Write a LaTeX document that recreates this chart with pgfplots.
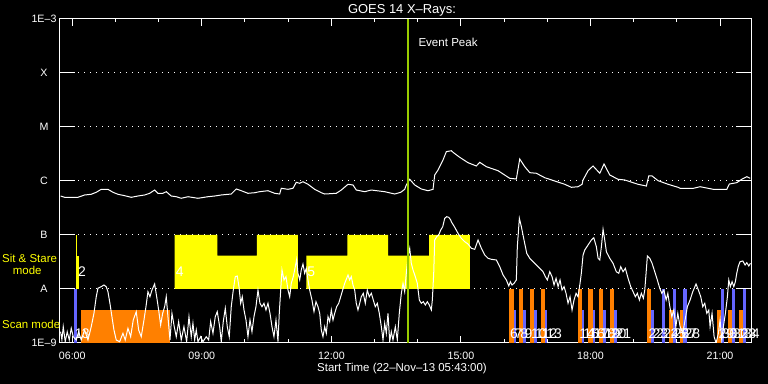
\documentclass[border=0pt]{standalone}
\usepackage{fontspec}
\setmainfont{Liberation Sans}
\usepackage{pgfplots}
\pgfplotsset{compat=1.18}
\definecolor{scanor}{RGB}{255,128,0}
\definecolor{scanbl}{RGB}{102,102,255}
\definecolor{peakgr}{RGB}{153,204,0}
\definecolor{ssy}{RGB}{255,255,0}
\tikzset{lab/.style={white, font=\fontsize{14}{15}\selectfont, inner sep=0pt, anchor=west, xshift=1bp}}
\pgfplotstableread{
h L
5.731 -6.278
5.824 -6.302
6.132 -6.302
6.287 -6.259
6.440 -6.246
6.556 -6.209
6.672 -6.154
6.827 -6.154
6.943 -6.209
7.058 -6.246
7.214 -6.272
7.366 -6.302
7.522 -6.278
7.677 -6.259
7.793 -6.228
7.908 -6.167
7.985 -6.228
8.101 -6.228
8.177 -6.198
8.293 -6.278
8.409 -6.291
8.524 -6.320
8.680 -6.291
8.911 -6.320
9.143 -6.291
9.298 -6.278
9.451 -6.259
9.682 -6.241
9.798 -6.148
9.914 -6.180
10.069 -6.228
10.224 -6.217
10.340 -6.198
10.532 -6.180
10.688 -6.228
10.803 -6.241
10.840 -6.135
10.996 -6.154
11.111 -6.135
11.188 -6.024
11.267 -6.043
11.343 -6.013
11.459 -6.061
11.614 -6.154
11.767 -6.217
11.846 -6.241
12.114 -6.228
12.230 -6.167
12.385 -6.061
12.501 -6.074
12.577 -6.167
12.772 -6.198
12.925 -6.167
13.235 -6.198
13.467 -6.241
13.606 -6.209
13.698 -6.154
13.735 -6.074
13.814 -5.968
13.930 -6.074
14.083 -6.148
14.238 -6.180
14.354 -6.154
14.393 -5.889
14.470 -5.796
14.585 -5.611
14.662 -5.457
14.778 -5.439
14.817 -5.468
14.972 -5.561
15.164 -5.661
15.357 -5.722
15.435 -5.654
15.588 -5.735
15.859 -5.809
16.130 -5.950
16.283 -5.963
16.362 -5.593
16.478 -5.735
16.594 -5.846
16.746 -5.857
16.941 -5.939
17.172 -6.000
17.404 -6.061
17.557 -6.117
17.712 -6.106
17.805 -6.061
17.828 -5.981
17.944 -5.809
18.059 -5.722
18.215 -5.857
18.314 -5.685
18.446 -5.889
18.638 -5.968
18.793 -5.981
19.101 -6.061
19.294 -6.093
19.349 -5.907
19.426 -5.907
19.565 -5.994
19.797 -6.061
20.028 -6.117
20.075 -6.135
20.383 -6.135
20.538 -6.106
20.845 -6.154
21.156 -6.154
21.216 -6.056
21.387 -6.031
21.503 -5.968
21.619 -5.920
21.696 -5.950
}\longch
\pgfplotstableread{
h L
5.731 -8.791
5.761 -8.944
5.792 -8.698
5.838 -8.976
5.884 -8.791
5.931 -8.944
5.977 -8.728
6.023 -8.883
6.093 -8.944
6.148 -8.791
6.208 -8.944
6.287 -8.759
6.364 -8.944
6.440 -8.698
6.503 -8.450
6.556 -8.143
6.595 -7.987
6.672 -7.957
6.734 -7.926
6.787 -7.957
6.827 -8.050
6.873 -8.265
6.919 -8.513
6.966 -8.759
7.019 -8.944
7.098 -8.976
7.174 -8.820
7.227 -8.944
7.290 -8.728
7.353 -8.883
7.413 -8.574
7.482 -8.420
7.538 -8.759
7.598 -8.883
7.661 -8.574
7.707 -8.328
7.753 -8.050
7.800 -8.143
7.846 -8.019
7.908 -7.907
7.955 -8.143
8.001 -8.389
8.047 -8.667
8.094 -8.450
8.140 -8.328
8.177 -8.143
8.216 -8.513
8.263 -8.944
8.309 -8.450
8.355 -8.667
8.409 -8.883
8.464 -8.605
8.524 -8.944
8.587 -8.698
8.649 -8.976
8.703 -8.513
8.756 -8.883
8.795 -8.635
8.835 -8.944
8.872 -8.759
8.911 -8.976
8.974 -8.883
9.027 -8.976
9.103 -8.883
9.159 -8.944
9.205 -8.605
9.259 -8.820
9.312 -8.513
9.358 -8.420
9.414 -8.698
9.451 -8.976
9.497 -8.605
9.544 -8.357
9.590 -8.698
9.636 -8.883
9.682 -8.328
9.729 -8.019
9.775 -7.772
9.821 -7.759
9.861 -7.957
9.900 -8.265
9.937 -8.143
9.977 -8.389
10.023 -8.574
10.069 -8.883
10.116 -8.574
10.162 -8.791
10.208 -8.513
10.254 -8.328
10.301 -8.019
10.347 -8.265
10.393 -8.328
10.440 -8.265
10.486 -8.389
10.532 -8.265
10.579 -8.450
10.625 -8.698
10.671 -8.883
10.718 -8.574
10.764 -8.976
10.794 -8.450
10.827 -8.019
10.857 -7.648
10.903 -7.833
10.949 -7.772
10.996 -8.019
11.035 -8.143
11.072 -7.894
11.118 -7.772
11.165 -7.587
11.197 -7.450
11.227 -7.709
11.267 -7.833
11.303 -7.648
11.343 -7.537
11.382 -7.709
11.419 -7.617
11.459 -7.833
11.498 -8.019
11.551 -8.204
11.598 -8.420
11.644 -8.235
11.690 -8.328
11.730 -8.450
11.767 -8.759
11.806 -8.883
11.846 -8.698
11.883 -8.820
11.922 -8.513
11.961 -8.605
11.999 -8.389
12.038 -8.574
12.077 -8.450
12.123 -8.328
12.170 -8.265
12.216 -8.143
12.262 -8.019
12.309 -7.894
12.355 -7.802
12.385 -7.741
12.424 -7.833
12.462 -7.772
12.501 -7.926
12.540 -8.019
12.577 -8.265
12.616 -8.389
12.656 -8.265
12.693 -8.143
12.739 -8.080
12.786 -8.265
12.832 -8.019
12.878 -8.143
12.925 -8.080
12.971 -8.204
13.017 -8.328
13.064 -8.265
13.110 -8.450
13.157 -8.698
13.196 -8.944
13.235 -8.635
13.272 -8.820
13.311 -8.450
13.351 -8.976
13.388 -8.791
13.427 -8.944
13.481 -8.698
13.527 -8.944
13.573 -8.450
13.620 -8.080
13.659 -7.894
13.698 -8.050
13.735 -7.709
13.775 -7.402
13.814 -7.246
13.851 -7.524
13.891 -7.648
13.944 -7.772
13.990 -7.894
14.037 -8.204
14.083 -8.265
14.129 -8.235
14.176 -8.296
14.222 -8.235
14.268 -8.296
14.315 -8.389
14.338 -8.204
14.370 -7.709
14.393 -7.093
14.440 -7.031
14.486 -7.000
14.532 -6.907
14.579 -6.846
14.625 -6.691
14.671 -6.661
14.718 -6.672
14.764 -6.722
14.778 -6.754
14.856 -6.857
14.933 -6.969
15.009 -7.061
15.088 -7.124
15.164 -7.167
15.241 -7.246
15.320 -7.265
15.396 -7.093
15.473 -7.246
15.551 -7.370
15.628 -7.432
15.704 -7.450
15.820 -7.463
15.899 -7.587
15.976 -7.741
16.052 -7.833
16.108 -7.944
16.145 -7.865
16.184 -7.926
16.231 -7.894
16.283 -7.833
16.306 -7.217
16.353 -6.691
16.399 -6.846
16.461 -7.093
16.524 -7.339
16.594 -7.432
16.670 -7.494
16.746 -7.556
16.825 -7.617
16.901 -7.680
16.955 -7.772
17.001 -7.833
17.057 -7.680
17.110 -7.772
17.156 -7.926
17.203 -7.802
17.249 -7.957
17.295 -7.833
17.341 -8.019
17.388 -7.957
17.434 -8.080
17.480 -8.265
17.527 -8.143
17.573 -8.389
17.619 -8.204
17.666 -8.080
17.712 -8.143
17.758 -7.894
17.788 -7.709
17.828 -7.370
17.867 -7.278
17.944 -7.185
18.020 -7.093
18.076 -7.050
18.136 -7.217
18.176 -7.432
18.215 -7.463
18.252 -7.217
18.291 -6.894
18.330 -7.093
18.368 -7.309
18.446 -7.432
18.522 -7.524
18.598 -7.680
18.654 -7.709
18.701 -7.587
18.754 -7.680
18.807 -7.617
18.870 -7.802
18.932 -7.957
18.986 -8.050
19.039 -8.143
19.085 -8.080
19.132 -8.204
19.178 -8.080
19.224 -8.172
19.257 -8.019
19.287 -7.709
19.317 -7.389
19.373 -7.432
19.426 -7.524
19.488 -7.680
19.548 -7.833
19.604 -7.987
19.652 -8.080
19.699 -8.019
19.752 -8.204
19.791 -8.080
19.837 -8.328
19.883 -8.513
19.930 -8.389
19.976 -8.698
20.022 -8.450
20.075 -8.698
20.137 -8.820
20.190 -8.574
20.243 -8.328
20.306 -8.204
20.368 -8.050
20.444 -7.907
20.498 -8.019
20.553 -8.143
20.600 -8.328
20.646 -8.265
20.693 -8.450
20.739 -8.389
20.769 -8.698
20.815 -8.450
20.862 -8.883
20.908 -9.000
20.961 -8.820
21.001 -8.574
21.040 -8.944
21.077 -8.698
21.124 -8.450
21.170 -8.143
21.202 -7.833
21.239 -7.957
21.279 -7.865
21.318 -7.957
21.355 -7.865
21.387 -7.709
21.424 -7.574
21.464 -7.494
21.527 -7.481
21.580 -7.556
21.619 -7.513
21.666 -7.574
21.703 -7.524
}\shortch
\begin{document}
\begin{tikzpicture}
\fill[black] (0,0) rectangle (768bp,384bp);
\begin{axis}[
  at={(60bp,41bp)}, anchor=south west,
  scale only axis, width=691bp, height=324bp,
  xmin=5.7167, xmax=21.7167, ymin=-9, ymax=-3,
  clip mode=individual,
  axis line style={white, line width=1bp},
  xtick={6,9,12,15,18,21},
  xticklabels={06:00,09:00,12:00,15:00,18:00,21:00},
  minor xtick={7,8,10,11,13,14,16,17,19,20},
  tick align=inside,
  major tick length=7bp, minor tick length=3.5bp,
  xtick style={white, line width=1bp},
  ytick={-9,-8,-7,-6,-5,-4,-3},
  yticklabels={1E--9,A,B,C,M,X,1E--3},
  ytick style={draw=none},
  ymajorgrids,
  major grid style={white, line width=1bp, dash pattern=on 1bp off 5bp},
  tick label style={white, font=\fontsize{10.7}{12}\selectfont, inner sep=0pt},
  xticklabel style={anchor=center, yshift=-12.7bp},
  yticklabel style={anchor=center, xshift=-16bp},
  /pgf/number format/assume math mode=true,
]
% Sit & Stare mode blocks
\addplot[fill=ssy, draw=none] coordinates {(6.079,-8) (6.109,-8) (6.109,-7) (6.079,-7)};
\addplot[fill=ssy, draw=none] coordinates {(6.109,-8) (6.148,-8) (6.148,-7.383) (6.109,-7.383)};
\addplot[fill=ssy, draw=none] coordinates {(8.372,-8) (11.227,-8) (11.227,-7) (10.278,-7) (10.278,-7.383) (9.358,-7.383) (9.358,-7) (8.372,-7)};
\addplot[fill=ssy, draw=none] coordinates {(11.419,-8) (15.210,-8) (15.210,-7) (14.261,-7) (14.261,-7.383) (13.312,-7.383) (13.312,-7) (12.369,-7) (12.369,-7.383) (11.419,-7.383)};
% Scan mode bars
\addplot[fill=scanbl, draw=none] coordinates {(6.032,-9.1) (6.109,-9.1) (6.109,-8) (6.032,-8)};
\addplot[fill=scanor, draw=none] coordinates {(6.195,-9.1) (8.256,-9.1) (8.256,-8.389) (6.195,-8.389)};
% group 1
\addplot[fill=scanor, draw=none] coordinates {(16.114,-9.1) (16.223,-9.1) (16.223,-8) (16.114,-8)};
\addplot[fill=scanbl, draw=none] coordinates {(16.223,-9.1) (16.276,-9.1) (16.276,-8.389) (16.223,-8.389)};
\addplot[fill=scanor, draw=none] coordinates {(16.346,-9.1) (16.445,-9.1) (16.445,-8) (16.346,-8)};
\addplot[fill=scanbl, draw=none] coordinates {(16.445,-9.1) (16.501,-9.1) (16.501,-8.389) (16.445,-8.389)};
\addplot[fill=scanor, draw=none] coordinates {(16.600,-9.1) (16.693,-9.1) (16.693,-8) (16.600,-8)};
\addplot[fill=scanbl, draw=none] coordinates {(16.693,-9.1) (16.755,-9.1) (16.755,-8.389) (16.693,-8.389)};
\addplot[fill=scanor, draw=none] coordinates {(16.848,-9.1) (16.948,-9.1) (16.948,-8) (16.848,-8)};
\addplot[fill=scanbl, draw=none] coordinates {(16.948,-9.1) (16.994,-9.1) (16.994,-8.389) (16.948,-8.389)};
% group 2
\addplot[fill=scanor, draw=none] coordinates {(17.712,-9.1) (17.805,-9.1) (17.805,-8) (17.712,-8)};
\addplot[fill=scanbl, draw=none] coordinates {(17.805,-9.1) (17.851,-9.1) (17.851,-8.389) (17.805,-8.389)};
\addplot[fill=scanor, draw=none] coordinates {(17.944,-9.1) (18.052,-9.1) (18.052,-8) (17.944,-8)};
\addplot[fill=scanbl, draw=none] coordinates {(18.052,-9.1) (18.099,-9.1) (18.099,-8.389) (18.052,-8.389)};
\addplot[fill=scanor, draw=none] coordinates {(18.198,-9.1) (18.298,-9.1) (18.298,-8) (18.198,-8)};
\addplot[fill=scanbl, draw=none] coordinates {(18.298,-9.1) (18.360,-9.1) (18.360,-8.389) (18.298,-8.389)};
\addplot[fill=scanor, draw=none] coordinates {(18.445,-9.1) (18.553,-9.1) (18.553,-8) (18.445,-8)};
\addplot[fill=scanbl, draw=none] coordinates {(18.553,-9.1) (18.608,-9.1) (18.608,-8.389) (18.553,-8.389)};
% group 3
\addplot[fill=scanor, draw=none] coordinates {(19.317,-9.1) (19.410,-9.1) (19.410,-8) (19.317,-8)};
\addplot[fill=scanbl, draw=none] coordinates {(19.410,-9.1) (19.472,-9.1) (19.472,-8.389) (19.410,-8.389)};
\addplot[fill=scanbl, draw=none] coordinates {(19.658,-9.1) (19.734,-9.1) (19.734,-8) (19.658,-8)};
\addplot[fill=scanor, draw=none] coordinates {(19.827,-9.1) (19.905,-9.1) (19.905,-8.389) (19.827,-8.389)};
\addplot[fill=scanbl, draw=none] coordinates {(19.905,-9.1) (19.982,-9.1) (19.982,-8) (19.905,-8)};
\addplot[fill=scanor, draw=none] coordinates {(20.075,-9.1) (20.151,-9.1) (20.151,-8.389) (20.075,-8.389)};
\addplot[fill=scanbl, draw=none] coordinates {(20.151,-9.1) (20.230,-9.1) (20.230,-8) (20.151,-8)};
% group 4
\addplot[fill=scanor, draw=none] coordinates {(20.938,-9.1) (21.017,-9.1) (21.017,-8.389) (20.938,-8.389)};
\addplot[fill=scanbl, draw=none] coordinates {(21.017,-9.1) (21.093,-9.1) (21.093,-8) (21.017,-8)};
\addplot[fill=scanor, draw=none] coordinates {(21.193,-9.1) (21.272,-9.1) (21.272,-8.389) (21.193,-8.389)};
\addplot[fill=scanbl, draw=none] coordinates {(21.272,-9.1) (21.348,-9.1) (21.348,-8) (21.272,-8)};
\addplot[fill=scanor, draw=none] coordinates {(21.448,-9.1) (21.527,-9.1) (21.527,-8.389) (21.448,-8.389)};
\addplot[fill=scanbl, draw=none] coordinates {(21.527,-9.1) (21.603,-9.1) (21.603,-8) (21.527,-8)};
% GOES curves
\addplot[white, line width=1bp] table[x=h, y=L] {\longch};
\addplot[white, line width=1bp] table[x=h, y=L] {\shortch};
% Event peak
\addplot[peakgr, line width=2bp] coordinates {(13.775,-9) (13.775,-3)};
% long y ticks
\pgfplotsinvokeforeach{-8,-7,-6,-5,-4}{
  \draw[white, line width=1bp] (axis cs:5.7167,#1) -- ++(15bp,0pt);
  \draw[white, line width=1bp] (axis cs:21.7167,#1) -- ++(-15bp,0pt);
}
% event labels
\node[lab] at (axis cs:6.032,-8.82) {1};
\node[lab] at (axis cs:6.195,-8.82) {3};
\node[lab] at (axis cs:6.109,-7.68) {2};
\node[lab] at (axis cs:8.372,-7.68) {4};
\node[lab] at (axis cs:11.419,-7.68) {5};
\node[lab] at (axis cs:16.114,-8.82) {6};
\node[lab] at (axis cs:16.223,-8.82) {7};
\node[lab] at (axis cs:16.346,-8.82) {8};
\node[lab] at (axis cs:16.445,-8.82) {9};
\node[lab] at (axis cs:16.600,-8.82) {10};
\node[lab] at (axis cs:16.693,-8.82) {11};
\node[lab] at (axis cs:16.848,-8.82) {12};
\node[lab] at (axis cs:16.948,-8.82) {13};
\node[lab] at (axis cs:17.712,-8.82) {14};
\node[lab] at (axis cs:17.805,-8.82) {15};
\node[lab] at (axis cs:17.944,-8.82) {16};
\node[lab] at (axis cs:18.052,-8.82) {17};
\node[lab] at (axis cs:18.198,-8.82) {18};
\node[lab] at (axis cs:18.298,-8.82) {19};
\node[lab] at (axis cs:18.445,-8.82) {20};
\node[lab] at (axis cs:18.553,-8.82) {21};
\node[lab] at (axis cs:19.317,-8.82) {22};
\node[lab] at (axis cs:19.410,-8.82) {23};
\node[lab] at (axis cs:19.658,-8.82) {24};
\node[lab] at (axis cs:19.827,-8.82) {25};
\node[lab] at (axis cs:19.905,-8.82) {26};
\node[lab] at (axis cs:20.075,-8.82) {27};
\node[lab] at (axis cs:20.151,-8.82) {28};
\node[lab] at (axis cs:20.938,-8.82) {29};
\node[lab] at (axis cs:21.017,-8.82) {30};
\node[lab] at (axis cs:21.193,-8.82) {31};
\node[lab] at (axis cs:21.272,-8.82) {32};
\node[lab] at (axis cs:21.448,-8.82) {33};
\node[lab] at (axis cs:21.527,-8.82) {34};
\end{axis}
\node[white, anchor=base, font=\fontsize{13}{15}\selectfont, inner sep=0pt] at (402bp,370bp) {GOES 14 X--Rays:};
\node[white, anchor=base, font=\fontsize{11.5}{13}\selectfont, inner sep=0pt] at (402bp,12.3bp) {Start Time (22--Nov--13 05:43:00)};
\node[white, anchor=base west, font=\fontsize{11.6}{13}\selectfont, inner sep=0pt] at (418.3bp,337.3bp) {Event Peak};
\node[ssy, anchor=base west, font=\fontsize{11.5}{13}\selectfont, inner sep=0pt] at (2bp,121.3bp) {Sit \& Stare};
\node[ssy, anchor=base west, font=\fontsize{11.5}{13}\selectfont, inner sep=0pt] at (12.7bp,109bp) {mode};
\node[ssy, anchor=base west, font=\fontsize{11.5}{13}\selectfont, inner sep=0pt] at (2bp,55.7bp) {Scan mode};
\pgfresetboundingbox
\useasboundingbox (0,0) rectangle (768bp,384bp);
\end{tikzpicture}
\end{document}
